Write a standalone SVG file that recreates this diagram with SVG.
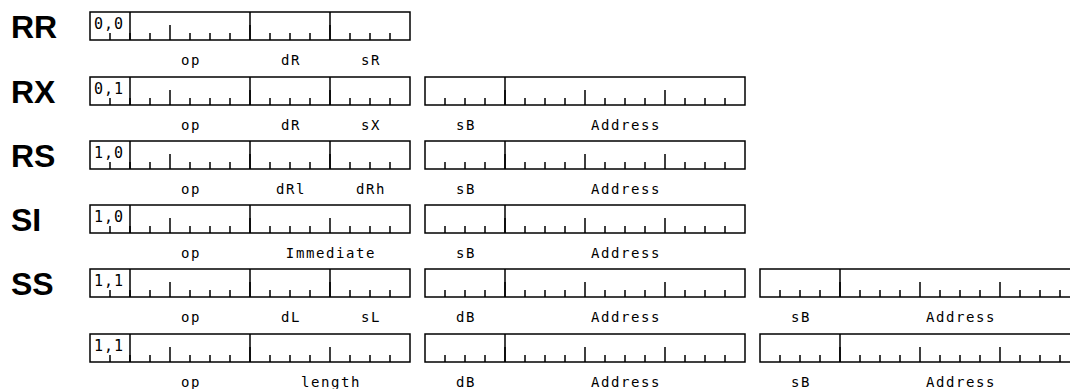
<svg xmlns="http://www.w3.org/2000/svg" xmlns:xlink="http://www.w3.org/1999/xlink" width="1070" height="389" viewBox="0 0 1070 389">
  <style>
    .frame { fill: #fff; stroke: #000; stroke-width: 1.5; }
    .tick { fill: none; stroke: #000; stroke-width: 1.5; }
    .fmt { font-family: "Liberation Sans", Arial, sans-serif; font-weight: bold; font-size: 32px; fill: #000; }
    .fld { font-family: "DejaVu Sans Mono", monospace; font-size: 14px; letter-spacing: 1.6px; text-anchor: middle; fill: #000; }
    .bits { font-family: "DejaVu Sans Mono", monospace; font-size: 15px; letter-spacing: 1px; text-anchor: middle; fill: #000; }
  </style>
  <defs>
    <!-- one 16-bit halfword: 20px per bit, taller marks on nibble boundaries -->
    <g id="halfword">
      <rect class="frame" x="0" y="0" width="320" height="28"/>
      <path class="tick" d="M20 21V28M40 21V28M60 21V28M100 21V28M120 21V28M140 21V28M180 21V28M200 21V28M220 21V28M260 21V28M280 21V28M300 21V28"/>
      <path class="tick" d="M80 13V28M160 13V28M240 13V28"/>
    </g>
    <!-- first halfword: format bits | op | two 4-bit fields -->
    <g id="hw-op-2">
      <use xlink:href="#halfword"/>
      <path class="tick" d="M40 0V28M160 0V28M240 0V28"/>
    </g>
    <!-- first halfword: format bits | op | one 8-bit field -->
    <g id="hw-op-1">
      <use xlink:href="#halfword"/>
      <path class="tick" d="M40 0V28M160 0V28"/>
    </g>
    <!-- base register | 12-bit displacement -->
    <g id="hw-addr">
      <use xlink:href="#halfword"/>
      <path class="tick" d="M80 0V28"/>
    </g>
  </defs>

  <g id="fmt-rr">
    <text class="fmt" x="11" y="38">RR</text>
    <use xlink:href="#hw-op-2" x="90" y="12"/>
    <text class="bits" x="109" y="28.5">0,0</text>
    <text class="fld" x="191" y="65">op</text>
    <text class="fld" x="291" y="65">dR</text>
    <text class="fld" x="371" y="65">sR</text>
  </g>

  <g id="fmt-rx">
    <text class="fmt" x="11" y="103">RX</text>
    <use xlink:href="#hw-op-2" x="90" y="77"/>
    <use xlink:href="#hw-addr" x="425" y="77"/>
    <text class="bits" x="109" y="93.5">0,1</text>
    <text class="fld" x="191" y="130">op</text>
    <text class="fld" x="291" y="130">dR</text>
    <text class="fld" x="371" y="130">sX</text>
    <text class="fld" x="466" y="130">sB</text>
    <text class="fld" x="626" y="130">Address</text>
  </g>

  <g id="fmt-rs">
    <text class="fmt" x="11" y="167">RS</text>
    <use xlink:href="#hw-op-2" x="90" y="141"/>
    <use xlink:href="#hw-addr" x="425" y="141"/>
    <text class="bits" x="109" y="157.5">1,0</text>
    <text class="fld" x="191" y="194">op</text>
    <text class="fld" x="291" y="194">dRl</text>
    <text class="fld" x="371" y="194">dRh</text>
    <text class="fld" x="466" y="194">sB</text>
    <text class="fld" x="626" y="194">Address</text>
  </g>

  <g id="fmt-si">
    <text class="fmt" x="11" y="231">SI</text>
    <use xlink:href="#hw-op-1" x="90" y="205"/>
    <use xlink:href="#hw-addr" x="425" y="205"/>
    <text class="bits" x="109" y="221.5">1,0</text>
    <text class="fld" x="191" y="258">op</text>
    <text class="fld" x="331" y="258">Immediate</text>
    <text class="fld" x="466" y="258">sB</text>
    <text class="fld" x="626" y="258">Address</text>
  </g>

  <g id="fmt-ss">
    <text class="fmt" x="11" y="295">SS</text>
    <use xlink:href="#hw-op-2" x="90" y="269"/>
    <use xlink:href="#hw-addr" x="425" y="269"/>
    <use xlink:href="#hw-addr" x="760" y="269"/>
    <text class="bits" x="109" y="285.5">1,1</text>
    <text class="fld" x="191" y="322">op</text>
    <text class="fld" x="291" y="322">dL</text>
    <text class="fld" x="371" y="322">sL</text>
    <text class="fld" x="466" y="322">dB</text>
    <text class="fld" x="626" y="322">Address</text>
    <text class="fld" x="801" y="322">sB</text>
    <text class="fld" x="961" y="322">Address</text>
  </g>

  <g id="fmt-ss-len">
    <use xlink:href="#hw-op-1" x="90" y="334"/>
    <use xlink:href="#hw-addr" x="425" y="334"/>
    <use xlink:href="#hw-addr" x="760" y="334"/>
    <text class="bits" x="109" y="350.5">1,1</text>
    <text class="fld" x="191" y="387">op</text>
    <text class="fld" x="331" y="387">length</text>
    <text class="fld" x="466" y="387">dB</text>
    <text class="fld" x="626" y="387">Address</text>
    <text class="fld" x="801" y="387">sB</text>
    <text class="fld" x="961" y="387">Address</text>
  </g>
</svg>
